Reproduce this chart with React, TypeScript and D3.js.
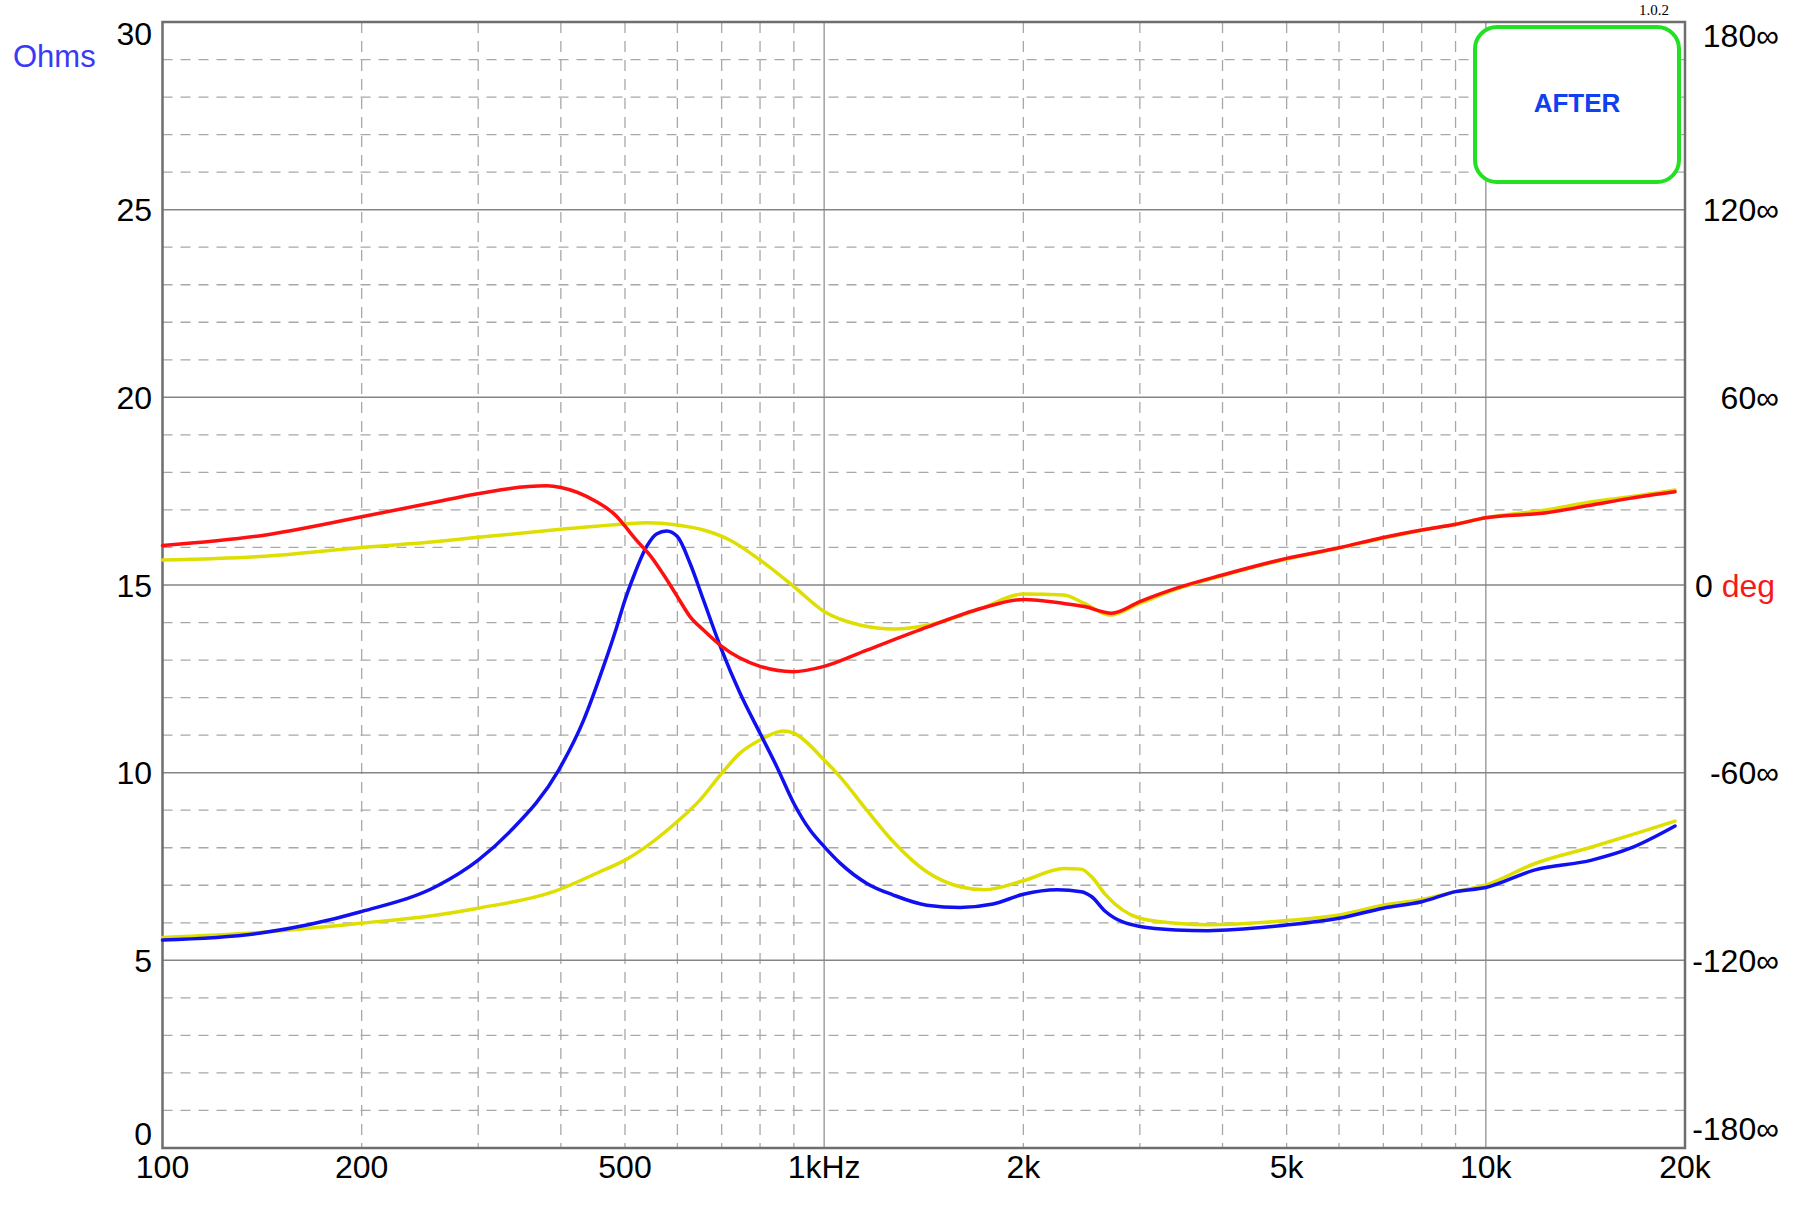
import { scaleLog, scaleLinear, line, curveMonotoneX, range } from "d3";

// impedance after (blue)
const zAfterFreq = [100, 140, 200, 260, 300, 335, 397, 433, 464, 486, 500, 515, 539, 558, 578, 600, 627, 657, 700, 746, 800, 848, 900, 952, 1000, 1057, 1160, 1272, 1429, 1605, 1800, 2000, 2249, 2446, 2535, 2662, 3000, 3399, 3800, 5000, 6000, 7000, 8000, 9000, 10000, 11870, 14460, 16500, 19320];
const zAfter = [5.54, 5.72, 6.3, 6.98, 7.67, 8.43, 10.07, 11.4, 12.83, 13.89, 14.6, 15.22, 16.02, 16.36, 16.44, 16.29, 15.58, 14.6, 13.27, 12.12, 11.05, 10.16, 9.18, 8.47, 8.03, 7.59, 7.05, 6.74, 6.47, 6.41, 6.5, 6.76, 6.88, 6.83, 6.7, 6.3, 5.9, 5.81, 5.79, 5.94, 6.12, 6.39, 6.56, 6.83, 6.94, 7.41, 7.67, 7.98, 8.58];

// impedance before (yellow)
const zBeforeFreq = [100, 140, 200, 260, 300, 390, 458, 500, 600, 649, 700, 746, 800, 868, 900, 1000, 1057, 1160, 1272, 1429, 1605, 1745, 2000, 2303, 2446, 2535, 2662, 3000, 3399, 3800, 5000, 6000, 7000, 8000, 9000, 10000, 11870, 14460, 16500, 19320];
const zBefore = [5.61, 5.74, 5.99, 6.21, 6.39, 6.83, 7.36, 7.67, 8.7, 9.27, 9.98, 10.52, 10.87, 11.11, 11.05, 10.34, 9.89, 9.0, 8.16, 7.36, 6.96, 6.88, 7.12, 7.45, 7.43, 7.23, 6.75, 6.12, 5.99, 5.95, 6.06, 6.21, 6.47, 6.62, 6.83, 7.01, 7.58, 8.02, 8.33, 8.71];

// phase after (red), degrees
const phAfterFreq = [100, 140, 200, 260, 292, 381, 400, 453, 486, 500, 521, 546, 571, 600, 627, 657, 700, 800, 897, 1000, 1160, 1438, 1725, 2000, 2303, 2474, 2718, 3000, 3399, 4000, 5000, 6000, 7000, 8000, 9000, 10000, 12350, 14460, 16500, 19320];
const phAfter = [12.6, 15.7, 21.8, 26.6, 28.8, 31.7, 31.2, 26.6, 21.9, 18.8, 14.2, 9.4, 3.5, -3.7, -10.1, -14.4, -19.6, -26.0, -27.7, -26.0, -20.8, -13.3, -7.5, -4.6, -5.9, -6.9, -9.0, -5.3, -1.1, 3.2, 8.5, 11.9, 15.2, 17.6, 19.4, 21.5, 23.1, 25.6, 27.7, 29.8];

// phase before (yellow), degrees
const phBeforeFreq = [100, 140, 200, 260, 292, 400, 500, 539, 600, 657, 720, 800, 900, 1000, 1132, 1277, 1438, 1725, 2000, 2303, 2474, 2700, 3000, 3399, 4000, 5000, 6000, 7000, 8000, 9000, 10000, 12350, 14460, 16500, 19320];
const phBefore = [8.0, 9.1, 12.0, 13.9, 15.0, 17.8, 19.5, 19.9, 19.2, 17.6, 14.4, 8.0, -0.5, -8.5, -12.8, -14.1, -12.8, -7.5, -2.9, -3.2, -5.9, -9.6, -5.9, -1.4, 3.0, 8.3, 11.8, 15.0, 17.5, 19.4, 21.5, 24.0, 26.6, 28.2, 30.4];

const freqTicks = [100, 200, 500, 1000, 2000, 5000, 10000, 20000];
const freqTickLabels = ["100", "200", "500", "1kHz", "2k", "5k", "10k", "20k"];
const ohmTicks = [0, 5, 10, 15, 20, 25, 30];
const degTicks = [180, 120, 60, -60, -120, -180];
const minorFreqs = [200, 300, 400, 500, 600, 700, 800, 900, 2000, 3000, 4000, 5000, 6000, 7000, 8000, 9000];
const majorFreqs = [1000, 10000];

const FONT = "'Liberation Sans', Arial, sans-serif";

function Chart() {
    const width = 1800;
    const height = 1213;
    const left = 162.5;
    const right = 1685;
    const top = 22;
    const bottom = 1148;

    const x = scaleLog([100, 20000], [left, right]);
    const y = scaleLinear([0, 30], [bottom, top]);
    const yDeg = scaleLinear([-180, 180], [bottom, top]);

    const zLine = (fs: number[], vs: number[]) =>
        line<number>((_, i) => x(fs[i]), (d) => y(d)).curve(curveMonotoneX)(vs) || "";
    const pLine = (fs: number[], vs: number[]) =>
        line<number>((_, i) => x(fs[i]), (d) => yDeg(d)).curve(curveMonotoneX)(vs) || "";

    const minorOhms = range(1, 30).filter((v) => v % 5 !== 0);

    return (
        <svg width={width} height={height} style={{ position: "absolute", left: 0, top: 0, background: "#fff" }}>
            {/* grid */}
            <g>
                {minorOhms.map((v) => (
                    <line key={"mh" + v} x1={left} x2={right} y1={y(v)} y2={y(v)} stroke="#a8a8a8" strokeWidth={1.3} strokeDasharray="10,8" />
                ))}
                {minorFreqs.map((f) => (
                    <line key={"mv" + f} x1={x(f)} x2={x(f)} y1={top} y2={bottom} stroke="#a8a8a8" strokeWidth={1.3} strokeDasharray="11,8" />
                ))}
                {majorFreqs.map((f) => (
                    <line key={"Mv" + f} x1={x(f)} x2={x(f)} y1={top} y2={bottom} stroke="#a0a0a0" strokeWidth={1.5} />
                ))}
                {[5, 10, 15, 20, 25].map((v) => (
                    <line key={"Mh" + v} x1={left} x2={right} y1={y(v)} y2={y(v)} stroke="#858585" strokeWidth={1.5} />
                ))}
                <rect x={left} y={top} width={right - left} height={bottom - top} fill="none" stroke="#6e6e6e" strokeWidth={2.5} />
            </g>

            {/* curves */}
            <g fill="none" strokeWidth={3.5} strokeLinejoin="round" strokeLinecap="round">
                <path d={pLine(phBeforeFreq, phBefore)} stroke="#dede00" />
                <path d={zLine(zBeforeFreq, zBefore)} stroke="#dede00" />
                <path d={zLine(zAfterFreq, zAfter)} stroke="#1010f0" />
                <path d={pLine(phAfterFreq, phAfter)} stroke="#ff1010" />
            </g>

            {/* left axis labels */}
            <g fontFamily={FONT} fontSize={32} fill="#000" textAnchor="end">
                {ohmTicks.map((v) => (
                    <text key={"l" + v} x={152} y={Math.min(Math.max(y(v) + 11.5, top + 23), bottom - 3)}>
                        {v}
                    </text>
                ))}
            </g>
            <text x={13} y={67} fontFamily={FONT} fontSize={31} fill="#3a3af5">Ohms</text>

            {/* right axis labels */}
            <g fontFamily={FONT} fontSize={32} fill="#000" textAnchor="end">
                {degTicks.map((v) => (
                    <text key={"r" + v} x={1779} y={Math.min(Math.max(yDeg(v) + 11.5, top + 25), bottom - 8)}>
                        {v + "∞"}
                    </text>
                ))}
            </g>
            <text x={1695} y={yDeg(0) + 11.5} fontFamily={FONT} fontSize={32} fill="#000">
                0 <tspan fill="#f51a1a">deg</tspan>
            </text>

            {/* bottom labels */}
            <g fontFamily={FONT} fontSize={32} fill="#000" textAnchor="middle">
                {freqTicks.map((f, i) => (
                    <text key={"b" + f} x={x(f)} y={1178}>
                        {freqTickLabels[i]}
                    </text>
                ))}
            </g>

            {/* legend box */}
            <rect x={1475} y={27} width={204} height={155} rx={22} ry={22} fill="#fff" stroke="#22e022" strokeWidth={4} />
            <text x={1577} y={112} textAnchor="middle" fontFamily={FONT} fontWeight="bold" fontSize={26} fill="#1040f0">AFTER</text>
            <text x={1654} y={15} textAnchor="middle" fontFamily="'Liberation Serif', 'Times New Roman', serif" fontSize={15} fill="#000">1.0.2</text>
        </svg>
    );
}

export default function App() {
    return (
        <div>
            <Chart />
        </div>
    );
}
